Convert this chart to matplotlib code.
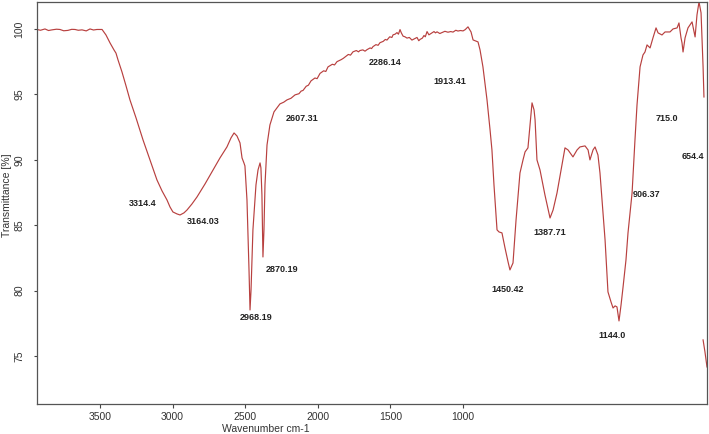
import matplotlib
matplotlib.use("Agg")
import matplotlib.pyplot as plt
import numpy as np

# Spectrum (axis units as drawn)
wavenumber = [3934, 3910, 3879, 3855, 3831, 3800, 3776, 3750, 3721, 3695, 3672, 3650, 3624, 3595, 3569, 3545, 3521, 3486,
              3459, 3431, 3404, 3390, 3376, 3349, 3321, 3294, 3252, 3204, 3156,
              3108, 3073, 3039, 3018, 2998, 2970, 2949, 2922, 2901, 2867,
              2832, 2777, 2722, 2674, 2626, 2598, 2577, 2557, 2536, 2522,
              2509, 2502, 2488, 2474, 2467, 2460, 2447, 2426, 2412, 2398,
              2392, 2385, 2378, 2371, 2364, 2350, 2330, 2302, 2261, 2235, 2212, 2185,
              2157, 2130, 2115, 2102, 2080, 2065, 2047, 2020, 2005, 1985, 1960, 1945,
              1930, 1900, 1885, 1868, 1840, 1825, 1813, 1790, 1775, 1758, 1735, 1720,
              1710, 1690, 1675, 1661, 1640, 1630, 1620, 1600, 1585, 1572, 1550, 1535,
              1524, 1505, 1490, 1482, 1468, 1455, 1445, 1434, 1425, 1413, 1400, 1386,
              1370, 1352, 1335, 1317, 1305, 1296, 1280, 1269, 1260, 1248, 1235, 1221,
              1200, 1190, 1179, 1160, 1145, 1125, 1104, 1085, 1069, 1050, 1035, 1018,
              1000, 985,
              966, 945, 931, 897, 883, 863, 835, 814, 801, 787,
              766, 752, 732, 711, 690, 677, 656, 635, 608, 587,
              573, 553, 539, 525, 511, 504, 491, 470, 436, 401,
              380, 353, 325, 298, 277, 243, 215, 195, 160, 139,
              126, 105, 91, 71, 57, 43, 22, 2, -19, -33,
              -47, -60, -74, -88, -102, -122, -136, -164, -184, -198,
              -219, -239, -253, -267, -288, -308, -329, -343, -370, -391,
              -425, -446, -474, -487, -501, -508, -515, -529, -549, -577,
              -598, -611, -625, -639, -653, -659]
transmittance = [99.96, 99.90, 100.00, 99.88, 99.93, 99.98, 99.96, 99.86, 99.89, 99.97, 99.96, 99.90, 99.93, 99.85, 100.00, 99.92, 99.96, 99.96,
                 99.54, 98.93, 98.40, 98.15, 97.63, 96.72, 95.65, 94.58, 93.20, 91.52, 89.99,
                 88.46, 87.62, 86.93, 86.39, 86.01, 85.86, 85.78, 85.94, 86.16, 86.62,
                 87.16, 88.15, 89.22, 90.14, 90.98, 91.67, 92.05, 91.82, 91.29, 90.14,
                 89.76, 89.53, 86.93, 81.58, 78.52, 80.05, 84.64, 88.08, 89.22, 89.76,
                 89.38, 87.31, 82.57, 84.64, 88.08, 91.13, 92.66, 93.66, 94.27, 94.40, 94.58, 94.70,
                 94.96, 95.05, 95.25, 95.30, 95.62, 95.70, 96.03, 96.25, 96.20, 96.60, 96.80, 96.75,
                 97.10, 97.30, 97.25, 97.50, 97.65, 97.75, 97.85, 98.05, 98.00, 98.25, 98.35, 98.25,
                 98.35, 98.40, 98.30, 98.42, 98.55, 98.50, 98.65, 98.80, 98.75, 98.95, 99.05, 99.20,
                 99.15, 99.40, 99.35, 99.55, 99.60, 99.72, 99.60, 99.95, 99.70, 99.45, 99.40, 99.30,
                 99.35, 99.15, 99.25, 99.35, 99.10, 99.20, 99.30, 99.50, 99.40, 99.80, 99.55, 99.65,
                 99.80, 99.70, 99.78, 99.65, 99.72, 99.82, 99.75, 99.80, 99.76, 99.90, 99.84, 99.88,
                 99.85, 99.95,
                 100.16, 99.77, 99.16, 99.01, 98.40, 97.10, 94.58, 92.28, 90.75, 88.08,
                 84.64, 84.48, 84.41, 83.26, 82.19, 81.58, 82.11, 85.40, 88.99, 89.99,
                 90.60, 90.91, 92.66, 94.35, 93.81, 93.05, 89.99, 89.22, 87.31, 85.55,
                 86.16, 87.46, 89.22, 90.91, 90.75, 90.22, 90.75, 90.98, 91.06, 90.75,
                 89.99, 90.75, 90.98, 90.37, 88.99, 86.93, 83.87, 79.90, 79.13, 78.67,
                 78.83, 78.75, 77.68, 78.90, 80.28, 82.34, 84.41, 87.46, 91.52, 94.19,
                 97.10, 98.01, 98.24, 98.78, 98.55, 99.32, 100.08, 99.70, 99.54, 99.77,
                 99.77, 100.00, 100.08, 100.46, 99.32, 98.93, 98.24, 99.32, 100.08, 100.54,
                 99.39, 101.07, 102.07, 101.23, 97.10, 94.80]
tail_wavenumber = [-653, -666, -680]
tail_transmittance = [76.23, 75.31, 74.16]

peak_labels = ["3314.4", "3164.03", "2968.19", "2870.19", "2607.31", "2286.14",
               "1913.41", "1450.42", "1387.71", "1144.0", "906.37", "715.0", "654.4"]
label_x = [3204, 2791, 2426, 2247, 2109, 1537, 1090, 690, 401, -26, -267, -405, -584]
label_y = [86.62, 85.25, 77.98, 81.58, 93.12, 97.40, 95.95, 80.05, 84.41, 76.53, 87.31, 93.12, 90.22]

xticks = [3500, 3000, 2500, 2000, 1500, 1000]
yticks = [75, 80, 85, 90, 95, 100]

plt.rcParams['font.family'] = ['Liberation Sans Narrow', 'Liberation Sans', 'DejaVu Sans']

W, H = 709, 434
fig = plt.figure(figsize=(W / 100, H / 100), dpi=100)
ax = fig.add_axes([37 / W, (H - 404) / H, (707 - 37) / W, (404 - 2) / H])

line_color = '#b8403f'
ax.plot(wavenumber, transmittance, color=line_color, lw=0.85)
ax.plot(tail_wavenumber, tail_transmittance, color=line_color, lw=0.85)

ax.set_xlim(3934, -680)
ax.set_ylim(71.33, 102.06)
ax.set_xticks(xticks)
ax.set_xticklabels([str(t) for t in xticks])
ax.set_yticks(yticks)
ax.set_yticklabels([str(t) for t in yticks], rotation=90, va='center')

ax.tick_params(axis='x', length=3, width=0.8, pad=3, labelsize=7.5, colors='#444',
               labelcolor='#333')
ax.tick_params(axis='y', length=2, width=0.8, pad=7, labelsize=7.5, colors='#444',
               labelcolor='#333')
for s in ax.spines.values():
    s.set_color('#555')
    s.set_linewidth(0.9)

for txt, x, y in zip(peak_labels, label_x, label_y):
    ax.text(x, y, txt, ha='center', va='center', fontsize=6.5, fontweight='bold',
            color='#222', family=['Liberation Sans', 'DejaVu Sans'])

fig.text(266 / W, 1 - 429 / H, "Wavenumber cm-1", ha='center', va='center',
         fontsize=7.5, color='#333')
fig.text(7 / W, 1 - 195 / H, "Transmittance [%]", ha='center', va='center',
         rotation=90, fontsize=7.5, color='#333')

fig.savefig("out.png", dpi=100)
